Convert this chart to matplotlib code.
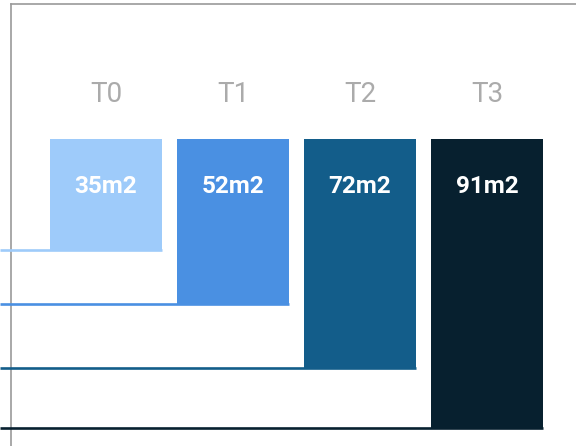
import numpy as np
import matplotlib.pyplot as plt

# chart data
stages = ['T0', 'T1', 'T2', 'T3']
areas = [35, 52, 72, 91]
labels = ['35m2', '52m2', '72m2', '91m2']
colors = ['#9ecbfa', '#4a90e2', '#135d8a', '#07202f']

fig = plt.figure(figsize=(5.76, 4.46), dpi=100)

# light frame, top and left only
frame = fig.add_axes([11/576, 0, 1 - 11/576, 442/446])
frame.set_xticks([])
frame.set_yticks([])
for side in ['right', 'bottom']:
    frame.spines[side].set_visible(False)
for side in ['top', 'left']:
    frame.spines[side].set_color('#9a9a9a')
    frame.spines[side].set_linewidth(1.2)
frame.patch.set_alpha(0)

ax = fig.add_axes([0, 0, 1, 1])
ax.patch.set_alpha(0)
ax.axis('off')

x = np.arange(len(stages))
w = 112 / 127
ax.bar(x, areas, width=w, bottom=0, color=colors, zorder=2)

# line under each bar, running to the left edge
xl = -106 / 127
for i, a in enumerate(areas):
    ax.plot([xl, i + w / 2], [a, a], color=colors[i], lw=1.9, zorder=1,
            solid_capstyle='butt')

for i in range(len(stages)):
    ax.text(x[i], -13.9, stages[i], ha='center', va='center', fontsize=20,
            color='#ababab', family='Roboto', fontweight='normal')
    ax.text(x[i], 15.0, labels[i], ha='center', va='center', fontsize=17.5,
            color='white', family='Roboto', fontweight='bold', zorder=3)

ax.set_xlim(xl, (576 - 106) / 127)
ax.set_ylim((446 - 139) / 3.18, -139 / 3.18)

fig.savefig('out.png', dpi=100)
